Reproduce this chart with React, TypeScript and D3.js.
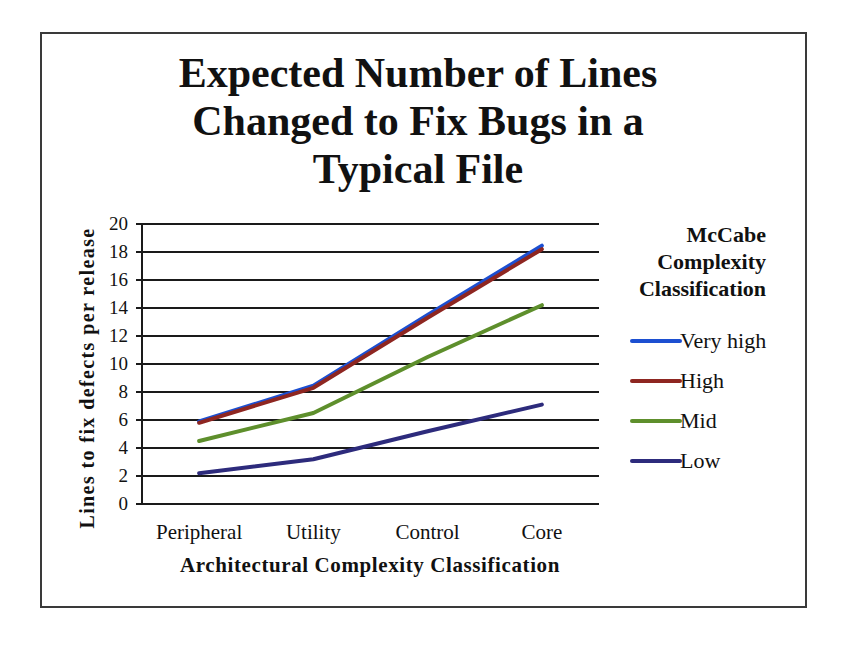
import React from 'react';
import * as d3 from 'd3';

const categories = ['Peripheral', 'Utility', 'Control', 'Core'];
const seriesNames = ['Very high', 'High', 'Mid', 'Low'];
const veryHigh = [5.9, 8.45, 13.5, 18.45];
const high = [5.8, 8.3, 13.3, 18.2];
const mid = [4.5, 6.5, 10.5, 14.2];
const low = [2.2, 3.2, 5.2, 7.1];
const yTicks = [0, 2, 4, 6, 8, 10, 12, 14, 16, 18, 20];
const seriesColors = ['#1c4fd1', '#8e2621', '#5e8f2c', '#2d2b7c'];

const titleLines = ['Expected Number of Lines', 'Changed to Fix Bugs in a', 'Typical File'];
const legendTitle = ['McCabe', 'Complexity', 'Classification'];

const FONT = '"Liberation Serif", "Times New Roman", serif';

const App: React.FC = () => {
    const width = 845;
    const height = 650;
    const left = 142;
    const right = 599;
    const top = 224;
    const bottom = 504;

    const xScale = d3.scalePoint<string>()
        .domain(categories)
        .range([left, right])
        .padding(0.5);

    const yScale = d3.scaleLinear()
        .domain([0, 20])
        .range([bottom, top]);

    const line = d3.line<number>()
        .x((_, i) => xScale(categories[i])!)
        .y(d => yScale(d));

    const allSeries = [veryHigh, high, mid, low];
    // draw Low first, High last so the red sits over the blue like the original
    const drawOrder = [3, 2, 0, 1];

    return (
        <svg width={width} height={height} style={{ display: 'block', position: 'absolute', left: 0, top: 0 }}
            fontFamily={FONT}>
            <rect x={0} y={0} width={width} height={height} fill="#fff" />
            <rect x={41} y={33} width={765} height={574} fill="none" stroke="#3a3a3a" strokeWidth={2} />

            {titleLines.map((t, i) => (
                <text key={t} x={418} y={87 + i * 48} textAnchor="middle"
                    fontSize={42} fontWeight="bold" fill="#111">{t}</text>
            ))}

            {yTicks.map(t => (
                <g key={t}>
                    <line x1={136} x2={right} y1={yScale(t)} y2={yScale(t)} stroke="#1a1a1a" strokeWidth={2} />
                    <text x={128} y={yScale(t) + 6} textAnchor="end" fontSize={19} fill="#111">{t}</text>
                </g>
            ))}
            <line x1={left} x2={left} y1={top} y2={bottom} stroke="#1a1a1a" strokeWidth={2} />

            {drawOrder.map(i => (
                <path key={seriesNames[i]} d={line(allSeries[i]) ?? ''} fill="none"
                    stroke={seriesColors[i]} strokeWidth={4} strokeLinejoin="round" strokeLinecap="round" />
            ))}

            {categories.map(c => (
                <text key={c} x={xScale(c)} y={539} textAnchor="middle" fontSize={21} fill="#111">{c}</text>
            ))}

            <text x={370} y={572} textAnchor="middle" fontSize={21} fontWeight="bold" fill="#111"
                letterSpacing={0.6}>
                Architectural Complexity Classification
            </text>
            <text transform="translate(94, 378) rotate(-90)" textAnchor="middle" fontSize={20}
                fontWeight="bold" fill="#111" letterSpacing={1.4}>
                Lines to fix defects per release
            </text>

            {legendTitle.map((t, i) => (
                <text key={t} x={766} y={242 + i * 27} textAnchor="end" fontSize={22}
                    fontWeight="bold" fill="#111">{t}</text>
            ))}
            {seriesNames.map((s, i) => (
                <g key={s}>
                    <line x1={632} x2={680} y1={341 + i * 40} y2={341 + i * 40}
                        stroke={seriesColors[i]} strokeWidth={4} strokeLinecap="round" />
                    <text x={680} y={348 + i * 40} fontSize={22} fill="#111">{s}</text>
                </g>
            ))}
        </svg>
    );
};

export default App;
